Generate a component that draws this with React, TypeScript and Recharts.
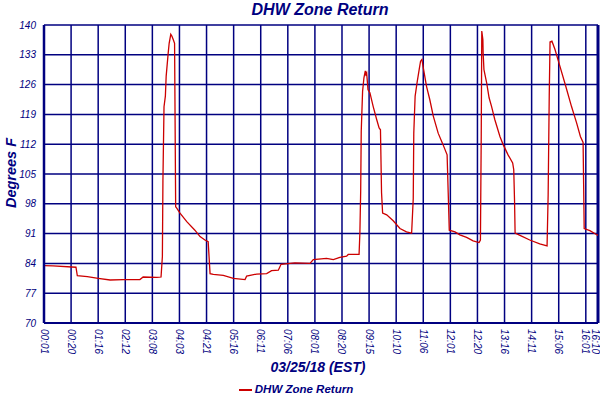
import React from "react"
import { CartesianGrid, Legend, Line, LineChart, ReferenceLine, XAxis, YAxis } from "recharts"

const sampleIdx = [
  0, 3.3, 11.8, 12.3, 16, 20, 24.4, 29.3, 35.4, 36.6, 41.6, 43.2, 43.7, 43.9, 44.3, 44.8, 45.1, 45.8, 46.2, 46.8,
  47.2, 47.7, 48.2, 48.6, 49, 50.2, 52.7, 55.7, 57.6, 59.4, 60.6, 61.3, 62.5, 66.2, 69.9, 74.2, 74.8, 78.5, 82.2, 84,
  86.5, 87.5, 92.6, 98.2, 99.4, 104.3, 106.8, 109.2, 111.7, 112.3, 116.3, 116.6, 116.9, 117.1, 117.6, 118.1, 118.6, 118.8, 119.1, 119.6,
  120.3, 121.5, 122.8, 123.7, 124.2, 124.6, 125, 126.5, 128.9, 131.4, 133.8, 135.7, 136.3, 136.5, 137, 137.7, 138.5, 139, 139.5, 140,
  141.2, 142.4, 143.7, 145.5, 147.3, 148.8, 149.2, 149.6, 151.7, 153.5, 156, 158.4, 160.6, 161.1, 161.4, 161.6, 162, 162.1, 162.4, 163.4,
  164.3, 165.2, 166.4, 168.3, 169.5, 171.3, 173, 173.4, 173.7, 173.9, 176.3, 179.3, 183, 185.7, 186.1, 186.5, 186.8, 187.5, 188.6, 190.4,
  192.6, 194.7, 196.6, 198, 199, 199.2, 199.4, 201.5, 203.9, 204.5,
]
const temps = [
  83.5, 83.4, 83.1, 81.1, 80.9, 80.5, 80.1, 80.2, 80.2, 80.8, 80.7, 80.8, 85.6, 103.4, 120.8, 123.3, 128, 133.1, 135.7, 137.8,
  137.4, 136.6, 135.7, 97.3, 97, 95.8, 93.8, 91.8, 90.3, 89.5, 89.1, 81.6, 81.4, 81.2, 80.5, 80.2, 81, 81.5, 81.6, 82.3,
  82.4, 83.8, 84.1, 84, 84.9, 85.2, 84.9, 85.4, 85.7, 86.1, 86.1, 91.1, 101, 115, 124.4, 127.6, 129.2, 128.4, 128.8, 124.8,
  124.1, 120.9, 117.8, 115.8, 115.4, 100.6, 95.8, 95.4, 94, 92.2, 91.4, 91.1, 99.2, 114.6, 123.3, 126.4, 129.6, 131.5, 131.9, 130,
  125.6, 122.5, 118.6, 114.6, 111.9, 109.5, 100.7, 91.8, 91.4, 90.7, 90.1, 89.3, 88.9, 89.5, 114.2, 138.6, 136.6, 133.5, 129.5, 126.4,
  122.9, 120.9, 117.8, 113.8, 111.9, 109.5, 107.6, 106, 98.5, 91.1, 90.4, 89.5, 88.6, 88.1, 100.1, 123.4, 136, 136.2, 134.3, 130.4,
  125.6, 120.9, 117, 113.8, 112.4, 102.5, 92.2, 91.7, 90.8, 90.6,
]

const timeLabels = [
  "00:01", "00:20", "01:16", "02:12", "03:08", "04:03", "04:21", "05:16", "06:11", "07:06", "08:01",
  "08:20", "09:15", "10:10", "11:06", "12:01", "12:20", "13:16", "14:11", "15:06", "16:01", "16:10",
]
const timeTicks = [0, 10, 20, 30, 40, 50, 60, 70, 80, 90, 100, 110, 120, 130, 140, 150, 160, 170, 180, 190, 200, 204.5]
const tempTicks = [70, 77, 84, 91, 98, 105, 112, 119, 126, 133, 140]

const NAVY = "#000080"
const RED = "#cc0000"
const FONT = "'Liberation Sans', Arial, sans-serif"

const data = sampleIdx.map((i, k) => ({ i, temp: temps[k] }))

function TimeTick(props: any) {
  const { x, y, payload } = props
  const idx = timeTicks.indexOf(payload.value)
  // last label sits on the right border, nudge it so it stays on the page
  const shift = idx === timeTicks.length - 1 ? -3 : 0
  return (
    <g transform={`translate(${x + shift},${y})`}>
      <text transform="rotate(90)" dy="0.35em" textAnchor="start" fill={NAVY} fontSize={10} fontStyle="italic" fontFamily={FONT}>
        {timeLabels[idx]}
      </text>
    </g>
  )
}

function XTitle(props: any) {
  const vb = props.viewBox
  return (
    <text x={vb.x + vb.width / 2 - 3} y={vb.y + 49} textAnchor="middle" fill={NAVY} fontSize={14} fontWeight="bold" fontStyle="italic" fontFamily={FONT}>
      03/25/18 (EST)
    </text>
  )
}

function YTitle() {
  return (
    <text x={16} y={173} transform="rotate(-90, 16, 173)" textAnchor="middle" fill={NAVY} fontSize={14.5} fontWeight="bold" fontStyle="italic" fontFamily={FONT}>
      Degrees F
    </text>
  )
}

function LegendBox() {
  return (
    <div style={{ display: "flex", justifyContent: "center", alignItems: "center", height: 22, marginLeft: -6 }}>
      <svg width={16} height={10}>
        <line x1={0} y1={6} x2={13} y2={6} stroke={RED} strokeWidth={2} />
      </svg>
      <span style={{ color: NAVY, fontSize: 11.5, fontWeight: "bold", fontStyle: "italic", fontFamily: FONT }}>
        DHW Zone Return
      </span>
    </div>
  )
}

export default function App() {
  return (
    <div style={{ position: "absolute", left: 0, top: 0, width: 600, height: 400, background: "#fff" }}>
      <div
        style={{
          position: "absolute", left: 0, top: 0, width: 640, textAlign: "center", lineHeight: "20px",
          color: NAVY, fontSize: 16, fontWeight: "bold", fontStyle: "italic", fontFamily: FONT,
        }}
      >
        DHW Zone Return
      </div>
      <LineChart width={600} height={400} data={data} margin={{ top: 25, right: 2, bottom: 0, left: 0 }}>
        <CartesianGrid stroke={NAVY} strokeWidth={1.5} />
        <XAxis
          dataKey="i"
          type="number"
          domain={[0, 204.5]}
          ticks={timeTicks}
          interval={0}
          height={55}
          tickLine={false}
          tickSize={0}
          tickMargin={6}
          axisLine={{ stroke: NAVY, strokeWidth: 2 }}
          tick={<TimeTick />}
          label={<XTitle />}
        />
        <YAxis
          type="number"
          domain={[70, 140]}
          ticks={tempTicks}
          interval={0}
          width={44}
          tickLine={false}
          axisLine={{ stroke: NAVY, strokeWidth: 2.5 }}
          tick={{ fill: NAVY, fontSize: 10, fontStyle: "italic", fontFamily: FONT }}
          label={<YTitle />}
        />
        <ReferenceLine x={204.5} stroke={NAVY} strokeWidth={3} />
        <Legend verticalAlign="bottom" height={22} content={<LegendBox />} />
        <Line type="linear" dataKey="temp" stroke={RED} strokeWidth={1.3} dot={false} isAnimationActive={false} />
      </LineChart>
    </div>
  )
}
